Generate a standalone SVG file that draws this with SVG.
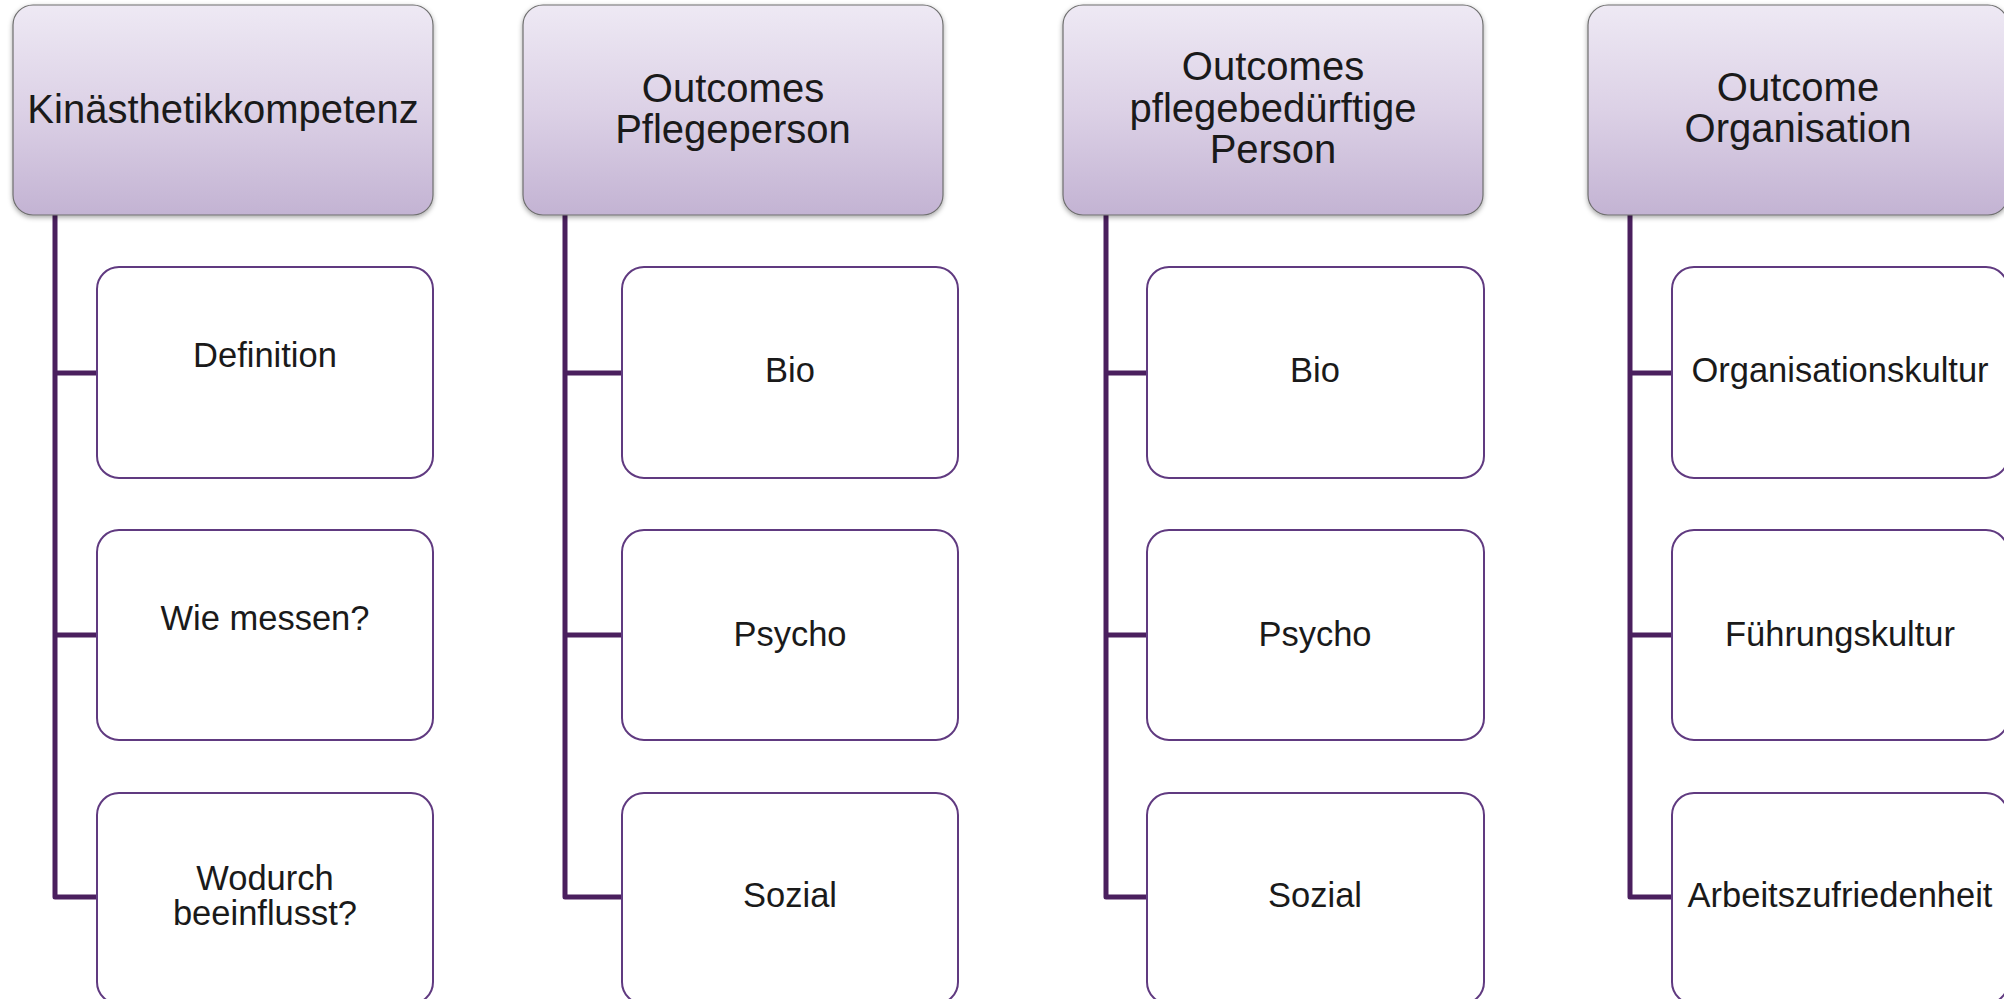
<svg xmlns="http://www.w3.org/2000/svg" width="2004" height="999" viewBox="0 0 2004 999">
<defs>
<linearGradient id="hg" x1="0" y1="0" x2="0" y2="1">
<stop offset="0" stop-color="#eee9f4"/>
<stop offset="0.5" stop-color="#dcd1e6"/>
<stop offset="1" stop-color="#c3b3d3"/>
</linearGradient>
<filter id="sh" x="-5%" y="-5%" width="110%" height="115%">
<feDropShadow dx="0" dy="2" stdDeviation="2.5" flood-color="#000" flood-opacity="0.35"/>
</filter>
</defs>
<style>
.hd{fill:url(#hg);stroke:#6f6f6f;stroke-width:1.2;filter:url(#sh)}
.ch{fill:#fff;stroke:#603a80;stroke-width:2}
.cn{fill:none;stroke:#4a1f5e;stroke-width:5;stroke-linejoin:round}
.ht{font-family:"Liberation Sans",Arial,sans-serif;font-size:40px;fill:#1a1a1a;text-anchor:middle}
.ct{font-family:"Liberation Sans",Arial,sans-serif;font-size:34.5px;fill:#1a1a1a;text-anchor:middle}
</style>
<rect width="2004" height="999" fill="#fff"/>
<g id="connectors">
<path class="cn" d="M55,215 V897 H97 M55,373 H97 M55,635 H97"/>
<path class="cn" d="M565,215 V897 H622 M565,373 H622 M565,635 H622"/>
<path class="cn" d="M1106,215 V897 H1147 M1106,373 H1147 M1106,635 H1147"/>
<path class="cn" d="M1630,215 V897 H1672 M1630,373 H1672 M1630,635 H1672"/>
</g>
<g id="h1"><rect class="hd" x="13" y="5" width="420" height="210" rx="20"/><text class="ht" x="223" y="123">Kinästhetikkompetenz</text></g>
<g id="c1a"><rect class="ch" x="97" y="267" width="336" height="211" rx="22"/><text class="ct" x="265" y="367">Definition</text></g>
<g id="c1b"><rect class="ch" x="97" y="530" width="336" height="210" rx="22"/><text class="ct" x="265" y="630">Wie messen?</text></g>
<g id="c1c"><rect class="ch" x="97" y="793" width="336" height="211" rx="22"/><text class="ct" x="265" y="890">Wodurch</text><text class="ct" x="265" y="925">beeinflusst?</text></g>

<g id="h2"><rect class="hd" x="523" y="5" width="420" height="210" rx="20"/><text class="ht" x="733" y="102">Outcomes</text><text class="ht" x="733" y="143">Pflegeperson</text></g>
<g id="c2a"><rect class="ch" x="622" y="267" width="336" height="211" rx="22"/><text class="ct" x="790" y="382">Bio</text></g>
<g id="c2b"><rect class="ch" x="622" y="530" width="336" height="210" rx="22"/><text class="ct" x="790" y="646">Psycho</text></g>
<g id="c2c"><rect class="ch" x="622" y="793" width="336" height="211" rx="22"/><text class="ct" x="790" y="907">Sozial</text></g>

<g id="h3"><rect class="hd" x="1063" y="5" width="420" height="210" rx="20"/><text class="ht" x="1273" y="80">Outcomes</text><text class="ht" x="1273" y="121.5">pflegebedürftige</text><text class="ht" x="1273" y="163">Person</text></g>
<g id="c3a"><rect class="ch" x="1147" y="267" width="337" height="211" rx="22"/><text class="ct" x="1315" y="382">Bio</text></g>
<g id="c3b"><rect class="ch" x="1147" y="530" width="337" height="210" rx="22"/><text class="ct" x="1315" y="646">Psycho</text></g>
<g id="c3c"><rect class="ch" x="1147" y="793" width="337" height="211" rx="22"/><text class="ct" x="1315" y="907">Sozial</text></g>

<g id="h4"><rect class="hd" x="1588" y="5" width="420" height="210" rx="20"/><text class="ht" x="1798" y="101">Outcome</text><text class="ht" x="1798" y="142">Organisation</text></g>
<g id="c4a"><rect class="ch" x="1672" y="267" width="336" height="211" rx="22"/><text class="ct" x="1840" y="382">Organisationskultur</text></g>
<g id="c4b"><rect class="ch" x="1672" y="530" width="336" height="210" rx="22"/><text class="ct" x="1840" y="646">Führungskultur</text></g>
<g id="c4c"><rect class="ch" x="1672" y="793" width="336" height="211" rx="22"/><text class="ct" x="1840" y="907">Arbeitszufriedenheit</text></g>
</svg>
